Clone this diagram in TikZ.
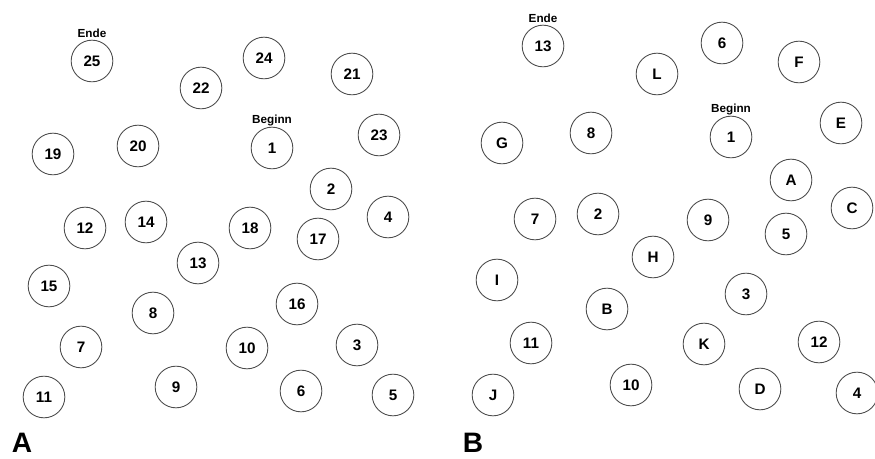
\documentclass[tikz,border=0pt]{standalone}
\usepackage{fontspec}
\setmainfont{Liberation Sans}
\usetikzlibrary{positioning}

\tikzset{
    dot/.style={circle, draw=black!70, line width=0.75pt, minimum size=1.25cm, inner sep=0pt, font=\fontsize{13}{13}\selectfont\bfseries},
    tag/.style={font=\fontsize{10}{10}\selectfont\bfseries, inner sep=0pt},
    panel/.style={font=\fontsize{24}{24}\selectfont\bfseries, inner sep=0pt}
}

\begin{document}
\begin{tikzpicture}[x=0.03cm, y=-0.03cm]
        \useasboundingbox (0,0) rectangle (875,459);

        % Part A: numbers 1 to 25
        \foreach \n/\px/\py in {1/272/148, 2/331/189, 3/357/345, 4/388/217, 5/393/395,
                                6/301/391, 7/81/347, 8/153/313, 9/176/387, 10/247/348,
                                11/44/397, 12/85/228, 13/198/263, 14/146/222, 15/49/286,
                                16/297/304, 17/318/239, 18/250/228, 19/53/154, 20/138/146,
                                21/352/74, 22/201/88, 23/379/135, 24/264/58, 25/92/61}
            \node[dot] (a\n) at (\px,\py) {\n};
        \node[tag, above=1.5pt of a25] (endeA) {Ende};
        \node[tag, above=0.5pt of a1] (beginnA) {Beginn};
        \node[panel] (partA) at (22,443) {A};

        % Part B: numbers and letters alternating
        \foreach \n/\px/\py in {1/731/137, 2/598/214, 3/746/294, 4/857/393, 5/786/234,
                                6/722/43, 7/535/219, 8/591/133, 9/708/220, 10/631/385,
                                11/531/343, 12/819/342, 13/543/46,
                                A/791/180, B/607/309, C/852/208, D/760/389, E/841/123,
                                F/799/62, G/502/143, H/653/257, I/497/280, J/493/395,
                                K/704/344, L/657/74}
            \node[dot] (b\n) at (\px,\py) {\n};
        \node[tag, above=1.5pt of b13] (endeB) {Ende};
        \node[tag, above=0.5pt of b1] (beginnB) {Beginn};
        \node[panel] (partB) at (473,443) {B};
    \end{tikzpicture}
\end{document}
